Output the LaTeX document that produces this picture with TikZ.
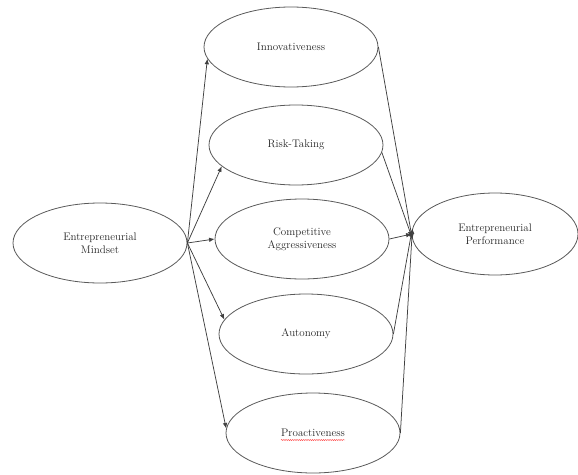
\documentclass[tikz,border=0pt]{standalone}
\usetikzlibrary{shapes.geometric,arrows.meta,decorations.pathmorphing}
\begin{document}
\begin{tikzpicture}[x=1pt,y=-1pt,
  oval/.style={ellipse,draw=black!65,line width=0.8pt,minimum width=174pt,minimum height=80pt,
    inner sep=1pt,align=center,font=\fontsize{11}{13}\selectfont,text=black!85},
  link/.style={draw=black!75,line width=0.75pt,-{Latex[length=5.5pt,width=4.5pt]}},
  squiggle/.style={draw=red!70,line width=0.45pt,decorate,decoration={snake,amplitude=0.6pt,segment length=2.2pt}}]
\useasboundingbox (0,0) rectangle (578,474);
\node[oval] (mind) at (100,243) {Entrepreneurial\\Mindset};
\node[oval] (inn) at (291,47) {Innovativeness};
\node[oval] (risk) at (296,145) {Risk-Taking};
\node[oval] (comp) at (302,239) {Competitive\\Aggressiveness};
\node[oval] (auto) at (306,334) {Autonomy};
\node[oval] (pro) at (313,433) {Proactiveness};
\node[oval,minimum width=166pt,minimum height=82pt] (perf) at (495,234) {Entrepreneurial\\Performance};
\draw[link] (mind.east) -- (inn.188);
\draw[link] (mind.east) -- (risk.196);
\draw[link] (mind.east) -- (comp.west);
\draw[link] (mind.east) -- (auto.170);
\draw[link] (mind.east) -- (pro.177);
\draw[link] (inn.east) -- (perf.184);
\draw[link] (risk.355) -- (perf.182);
\draw[link] (comp.east) -- (perf.180);
\draw[link] (auto.east) -- (perf.178);
\draw[link] (pro.east) -- (perf.176);
\draw[squiggle] ([xshift=-32pt,yshift=-7pt]pro.center) -- ([xshift=32pt,yshift=-7pt]pro.center);
\end{tikzpicture}
\end{document}
